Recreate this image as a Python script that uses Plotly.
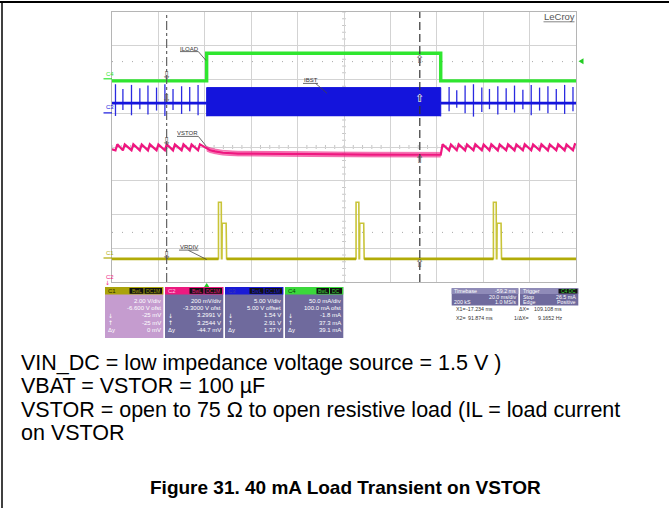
import plotly.graph_objects as go

# ---------------- data ----------------
# vertical settings of the four channels, from the readout boxes
CH_SCALE = {"C1": 2.0, "C2": 0.2, "C3": 5.0, "C4": 50.0}      # units / div
CH_OFFSET = {"C1": -6.6, "C2": -3.3, "C3": 5.0, "C4": 100.0}  # channel offset
TIME_RANGE = [-40.8, 159.2]                                   # ms, 20 ms/div

# C4 : ILOAD (mA)
iload_t = [-40.8, 0.0, 0.0, 100.9, 100.9, 159.2]
iload_ma = [-2.0, -2.0, 39.0, 39.0, -2.0, -2.0]

# C3 : IBST (V)
ibst_base_v = 1.5
ibst_spike_t = [-39.3, -36.1, -32.4, -28.8, -25.3, -21.6, -18.0, -14.5, -10.8, -7.3, -3.7,
                104.5, 107.8, 111.4, 115.0, 118.6, 121.9, 125.5, 129.1, 132.7, 136.3,
                139.9, 143.5, 147.1, 150.7, 154.3, 157.9]
ibst_spike_top = [4.3, 3.6, 4.2, 3.7, 4.1, 3.8, 4.3, 3.6, 4.0, 3.9, 4.2,
                  3.9, 3.4, 4.1, 4.3, 3.8, 3.6, 4.0, 3.7, 4.1, 3.5,
                  4.2, 3.8, 4.0, 3.6, 4.2, 3.9]
ibst_spike_bot = [-0.4, 0.5, -0.3, 0.6, -0.2, 0.4, -0.4, 0.5, -0.1, 0.3, -0.3,
                  0.3, 0.8, 0.0, -0.5, 0.2, 0.6, -0.2, 0.5, 0.1, 0.6,
                  -0.3, 0.4, 0.0, 0.5, -0.1, 0.3]
ibst_burst_t = [0.0, 100.9]
ibst_burst_top_v = 3.8
ibst_burst_bot_v = -0.45

# C2 : VSTOR (V)
vstor_pre_t = [-40.8, -39.3, -38.5, -36.1, -35.3, -32.4, -31.6, -28.8, -28.0, -25.3, -24.5,
               -21.6, -20.8, -18.0, -17.2, -14.5, -13.7, -10.8, -10.0, -7.3, -6.5, -3.7, -2.9, 0.0]
vstor_pre_v = [3.286, 3.280, 3.316, 3.280, 3.315, 3.281, 3.316, 3.280, 3.315, 3.280, 3.316,
               3.281, 3.315, 3.280, 3.316, 3.280, 3.315, 3.281, 3.316, 3.280, 3.315, 3.280, 3.316, 3.290]
vstor_load_t = [0.0, 1.5, 3.6, 7.0, 13.5, 40.0, 70.0, 100.9]
vstor_load_v = [3.290, 3.281, 3.274, 3.266, 3.261, 3.257, 3.255, 3.254]
vstor_post_t = [100.9, 101.7, 104.5, 105.3, 107.8, 108.6, 111.4, 112.2, 115.0, 115.8, 118.6,
                119.4, 121.9, 122.7, 125.5, 126.3, 129.1, 129.9, 132.7, 133.5, 136.3, 137.1,
                139.9, 140.7, 143.5, 144.3, 147.1, 147.9, 150.7, 151.5, 154.3, 155.1, 157.9,
                158.7, 159.2]
vstor_post_v = [3.254, 3.316, 3.280, 3.315, 3.281, 3.316, 3.280, 3.315, 3.280, 3.316, 3.281,
                3.315, 3.280, 3.316, 3.280, 3.315, 3.281, 3.316, 3.280, 3.315, 3.280, 3.316,
                3.281, 3.315, 3.280, 3.316, 3.280, 3.315, 3.281, 3.316, 3.280, 3.315, 3.280,
                3.316, 3.313]
vstor_noise_v = 0.014

# C1 : VRDIV (V)
vrdiv_base_v = -0.025
vrdiv_pulse_t0 = [5.1, 64.4, 123.6]
vrdiv_pulse_dt = [0.0, 0.0, 1.2, 1.3, 1.5, 1.6, 3.3, 3.5]
vrdiv_pulse_v = [-0.025, 3.33, 3.33, -0.025, -0.025, 2.08, 2.08, -0.025]

cursor_t = [-17.234, 91.874]
trigger_level_ma = 26.5

# readout boxes
box_channels = ["C1", "C2", "C3", "C4"]
box_tags = [["BwL", "DC1M"], ["BwL", "DC1M"], ["BwL", "DC1M"], ["BwL", "DC"]]
box_rows = [["2.00 V/div", "-6.600 V ofst", "-25 mV", "-25 mV", "0 mV"],
            ["200 mV/div", "-3.3000 V ofst", "3.2991 V", "3.2544 V", "-44.7 mV"],
            ["5.00 V/div", "5.00 V offset", "1.54 V", "2.91 V", "1.37 V"],
            ["50.0 mA/div", "100.0 mA ofst", "-1.8 mA", "37.3 mA", "39.1 mA"]]

notes = ["VIN_DC = low impedance voltage source = 1.5 V )",
         "VBAT = VSTOR = 100 µF",
         "VSTOR = open to 75 Ω to open resistive load (IL = load current",
         "on VSTOR"]
caption = "Figure 31. 40 mA Load Transient on VSTOR"

# ---------------- styling / layout ----------------
W, H = 669, 508
ML, MR, MT, MB = 112, 93, 12, 226
PW, PH = W - ML - MR, H - MT - MB
SF = "Liberation Sans, Arial, sans-serif"
COL = {"C1": "#b1ab08", "C2": "#ef1780", "C3": "#1414dc", "C4": "#2fe62f"}


def px(x):
    return (x - ML) / PW


def py(y):
    return (H - MB - y) / PH


def dv(vals, ch):
    return [None if v is None else (v + CH_OFFSET[ch]) / CH_SCALE[ch] for v in vals]


fig = go.Figure()

# C1 VRDIV : thin pulses over a thick baseline
vr_t, vr_v = [TIME_RANGE[0]], [vrdiv_base_v]
bl_t, bl_v = [TIME_RANGE[0]], [vrdiv_base_v]
for t0 in vrdiv_pulse_t0:
    for dt, v in zip(vrdiv_pulse_dt, vrdiv_pulse_v):
        vr_t.append(t0 + dt)
        vr_v.append(v)
    bl_t += [t0 + vrdiv_pulse_dt[0], None, t0 + vrdiv_pulse_dt[-1]]
    bl_v += [vrdiv_base_v, None, vrdiv_base_v]
vr_t.append(TIME_RANGE[1])
vr_v.append(vrdiv_base_v)
bl_t.append(TIME_RANGE[1])
bl_v.append(vrdiv_base_v)
fig.add_trace(go.Scatter(x=vr_t, y=dv(vr_v, "C1"), mode="lines",
                         line=dict(color="#c9c438", width=1.6), hoverinfo="skip"))
fig.add_trace(go.Scatter(x=bl_t, y=dv(bl_v, "C1"), mode="lines",
                         line=dict(color=COL["C1"], width=2.8), hoverinfo="skip"))

# C2 VSTOR
fig.add_trace(go.Scatter(x=vstor_load_t, y=dv([v + vstor_noise_v for v in vstor_load_v], "C2"),
                         mode="lines", line=dict(color="rgba(239,23,128,0.5)", width=1),
                         hoverinfo="skip"))
fig.add_trace(go.Scatter(x=vstor_load_t, y=dv([v - vstor_noise_v for v in vstor_load_v], "C2"),
                         mode="lines", line=dict(color="rgba(239,23,128,0.5)", width=1),
                         fill="tonexty", fillcolor="rgba(239,23,128,0.5)", hoverinfo="skip"))
vs_t = vstor_pre_t + vstor_load_t + vstor_post_t
vs_v = vstor_pre_v + vstor_load_v + vstor_post_v
fig.add_trace(go.Scatter(x=vs_t, y=dv(vs_v, "C2"), mode="lines",
                         line=dict(color=COL["C2"], width=2.2), hoverinfo="skip"))

# C3 IBST
sx, sy = [], []
for t, a, b in zip(ibst_spike_t, ibst_spike_top, ibst_spike_bot):
    sx += [t, t, None]
    sy += [a, b, None]
fig.add_trace(go.Scatter(x=sx, y=dv(sy, "C3"), mode="lines",
                         line=dict(color="#2a2ae0", width=1.3), hoverinfo="skip"))
fig.add_trace(go.Scatter(x=[TIME_RANGE[0], ibst_burst_t[0], None, ibst_burst_t[1], TIME_RANGE[1]],
                         y=dv([ibst_base_v, ibst_base_v, None, ibst_base_v, ibst_base_v], "C3"),
                         mode="lines", line=dict(color=COL["C3"], width=2.6), hoverinfo="skip"))
bx = [ibst_burst_t[0], ibst_burst_t[0], ibst_burst_t[1], ibst_burst_t[1]]
by = [ibst_burst_bot_v, ibst_burst_top_v, ibst_burst_top_v, ibst_burst_bot_v]
fig.add_trace(go.Scatter(x=bx, y=dv(by, "C3"), mode="lines", fill="toself",
                         fillcolor=COL["C3"], line=dict(color=COL["C3"], width=1),
                         hoverinfo="skip"))

# C4 ILOAD
fig.add_trace(go.Scatter(x=iload_t, y=dv(iload_ma, "C4"), mode="lines",
                         line=dict(color=COL["C4"], width=3.4), hoverinfo="skip"))

shapes = []
ann = []


def line_px(x0, y0, x1, y1, color="#444", width=1, dash=None):
    d = dict(type="line", xref="paper", yref="paper", x0=px(x0), y0=py(y0), x1=px(x1),
             y1=py(y1), line=dict(color=color, width=width), layer="above")
    if dash:
        d["line"]["dash"] = dash
    shapes.append(d)


def rect_px(x0, y0, x1, y1, fill, lc=None):
    shapes.append(dict(type="rect", xref="paper", yref="paper", x0=px(x0), y0=py(y0),
                       x1=px(x1), y1=py(y1), fillcolor=fill,
                       line=dict(width=0.6 if lc else 0, color=lc or fill), layer="above"))


def txt(x, y, s, size=6, color="#ffffff", anchor="left", family=SF):
    ann.append(dict(xref="paper", yref="paper", x=px(x), y=py(y), text=s, showarrow=False,
                    xanchor=anchor, yanchor="middle", borderpad=0,
                    font=dict(size=size, color=color, family=family)))


# center graticule ticks
xc = (TIME_RANGE[0] + TIME_RANGE[1]) / 2
for k in range(-20, 21):
    yv = k * 0.2
    shapes.append(dict(type="line", xref="x", yref="y", x0=xc - 0.8, x1=xc + 0.8, y0=yv, y1=yv,
                       line=dict(color="#c4c4c4", width=1), layer="below"))
for k in range(-25, 26):
    tv = xc + k * 4.0
    shapes.append(dict(type="line", xref="x", yref="y", x0=tv, x1=tv, y0=-0.06, y1=0.06,
                       line=dict(color="#c4c4c4", width=1), layer="below"))

# trigger level dotted lines
trig_div = (trigger_level_ma + CH_OFFSET["C4"]) / CH_SCALE["C4"]
for yv in [trig_div, -trig_div]:
    shapes.append(dict(type="line", xref="paper", yref="y", x0=0, x1=1, y0=yv, y1=yv,
                       line=dict(color="#a8a8a8", width=1, dash="1px,9px"), layer="below"))

# cursors
shapes.append(dict(type="line", xref="x", yref="paper", x0=cursor_t[0], x1=cursor_t[0], y0=0, y1=1,
                   line=dict(color="#555555", width=1.1, dash="dashdot"), layer="above"))
shapes.append(dict(type="line", xref="x", yref="paper", x0=cursor_t[1], x1=cursor_t[1], y0=0, y1=1,
                   line=dict(color="#333333", width=1.2, dash="8px,4px"), layer="above"))

# cursor arrows
AF = "DejaVu Sans"
x1p, x2p = 166.7, 419.3
for yy in [75.5, 99.0, 141.5, 255.0]:
    txt(x1p, yy, "⇩", size=11, color="#555555", anchor="center", family=AF)
for yy, c in [(59.5, "#555555"), (99.0, "#ffffff"), (159.0, "#555555"), (263.5, "#555555")]:
    txt(x2p, yy, "⇧", size=11, color=c, anchor="center", family=AF)

# trace labels with leader lines
for name, cx, cy, ux0, ux1, lx0, ly0, lx1, ly1 in [
        ("ILOAD", 189.0, 48.5, 180.0, 198.5, 198.5, 51.8, 206.0, 60.5),
        ("IBST", 310.5, 80.3, 303.0, 318.0, 315.5, 83.3, 327.0, 93.3),
        ("VSTOR", 187.8, 133.3, 177.0, 198.5, 198.5, 136.6, 206.5, 146.5),
        ("VRDIV", 188.7, 247.0, 179.0, 198.5, 188.5, 250.4, 206.7, 259.5)]:
    txt(cx, cy, name, size=6, color="#333333", anchor="center")
    line_px(ux0, cy + 3.1, ux1, cy + 3.1, color="#444444", width=0.8)
    line_px(lx0, ly0, lx1, ly1, color="#444444", width=0.8)

# left channel markers
for ch, ty, gy in [("C4", 73.8, 78.8), ("C3", 107.3, 112.9), ("C1", 252.8, 258.0)]:
    txt(104.5, ty, ch, size=6, color=COL[ch])
    line_px(103.5, gy, 112, gy, color=COL[ch], width=1.2)
txt(104.5, 277.0, "C2", size=6, color=COL["C2"])
txt(107.0, 282.5, "↓", size=6, color=COL["C2"], anchor="center", family=AF)

# trigger markers
shapes.append(dict(type="path", xref="paper", yref="paper", layer="above",
                   path=f"M {px(578.5)} {py(61.2)} L {px(583.5)} {py(58.2)} L {px(583.5)} {py(64.2)} Z",
                   fillcolor="#22cc22", line=dict(width=0)))
shapes.append(dict(type="path", xref="paper", yref="paper", layer="above",
                   path=f"M {px(206.7)} {py(283.0)} L {px(203.6)} {py(287.8)} L {px(209.8)} {py(287.8)} Z",
                   fillcolor="#22cc22", line=dict(width=0)))

# LeCroy logo
txt(559.0, 17.0, "LeCroy", size=9.5, color="#555555", anchor="center")
line_px(543.5, 21.8, 574.5, 21.8, color="#666666", width=0.8)

# channel readout boxes
box_x0 = [105.0, 165.0, 225.0, 285.0]
BW = 58.3
hdr_fill = {"C1": "#aaa30a", "C2": "#ec1a80", "C3": "#1a1ad6", "C4": "#3bd83b"}
hdr_text = {"C1": "#2b2900", "C2": "#ffc8e4", "C3": "#3a3ab0", "C4": "#0d3d0d"}
body_fill = {"C1": "#c59ccf", "C2": "#6f6a9d", "C3": "#6f6a9d", "C4": "#6f6a9d"}
row_y = [300.6, 307.8, 315.2, 322.5, 330.0]
for ch, x0, tags, rows in zip(box_channels, box_x0, box_tags, box_rows):
    rect_px(x0, 287.0, x0 + BW, 338.0, body_fill[ch])
    rect_px(x0, 287.0, x0 + BW, 294.5, hdr_fill[ch])
    txt(x0 + 1.5, 290.8, ch, size=6, color=hdr_text[ch])
    if len(tags[1]) > 2:
        spans = [(x0 + 24.5, x0 + 38.5), (x0 + 39.5, x0 + 57.0)]
    else:
        spans = [(x0 + 31.5, x0 + 44.0), (x0 + 45.0, x0 + 57.0)]
    for (a, b), tg in zip(spans, tags):
        rect_px(a, 288.0, b, 293.8, "#111111")
        txt((a + b) / 2, 290.9, tg, size=5, color=hdr_fill[ch], anchor="center")
    for ry, r in zip(row_y, rows):
        txt(x0 + BW - 1.5, ry, r, size=6, color="#ffffff", anchor="right")
    txt(x0 + 1.5, row_y[2], "↓", size=6, color="#ffffff", family=AF)
    txt(x0 + 1.5, row_y[3], "↑", size=6, color="#ffffff", family=AF)
    txt(x0 + 1.5, row_y[4], "Δy", size=6, color="#ffffff")

# timebase / trigger boxes
TS = 5.3
rect_px(451.7, 288.3, 518.3, 305.5, "#6f6a9d")
rect_px(451.7, 288.3, 518.3, 294.0, "#8f8bb8")
txt(453.0, 291.2, "Timebase", size=TS)
txt(517.0, 291.2, "-59.2 ms", size=TS, anchor="right")
txt(517.0, 296.8, "20.0 ms/div", size=TS, anchor="right")
txt(453.0, 302.0, "200 kS", size=TS)
txt(517.0, 302.0, "1.0 MS/s", size=TS, anchor="right")
rect_px(520.0, 288.3, 578.3, 305.5, "#6f6a9d")
rect_px(520.0, 288.3, 578.3, 294.0, "#8f8bb8")
txt(521.5, 291.2, "Trigger", size=TS)
rect_px(558.5, 288.9, 577.5, 293.6, "#111111")
txt(568.0, 291.2, "C4 DC", size=4.8, color="#3bd83b", anchor="center")
txt(521.5, 296.8, "Stop", size=TS)
txt(577.0, 296.8, "26.5 mA", size=TS, anchor="right")
txt(521.5, 302.0, "Edge", size=TS)
txt(577.0, 302.0, "Positive", size=TS, anchor="right")

# cursor readouts
dark = "#333333"
txt(455.0, 309.2, "X1=", size=TS, color=dark)
txt(493.5, 309.2, "-17.234 ms", size=TS, color=dark, anchor="right")
txt(529.5, 309.2, "ΔX=", size=TS, color=dark, anchor="right")
txt(563.0, 309.2, "109.108 ms", size=TS, color=dark, anchor="right")
txt(455.0, 317.8, "X2=", size=TS, color=dark)
txt(493.5, 317.8, "91.874 ms", size=TS, color=dark, anchor="right")
txt(529.5, 317.8, "1/ΔX=", size=TS, color=dark, anchor="right")
txt(563.0, 317.8, "9.1652 Hz", size=TS, color=dark, anchor="right")

# description text and caption
for ny, s in zip([362.5, 386.0, 410.0, 432.5], notes):
    txt(20.0, ny, s, size=21.5, color="#000000", family="Liberation Sans, Arial, sans-serif")
txt(345.0, 487.0, "<b>" + caption + "</b>", size=19, color="#000000", anchor="center",
    family="Liberation Sans, Arial, sans-serif")

# page frame
line_px(0, 2.0, 669, 2.0, color="#000000", width=2)
line_px(2.0, 2.0, 2.0, 508, color="#000000", width=1.5)

axis_common = dict(showgrid=True, gridcolor="#d3d3d3", gridwidth=1, zeroline=False,
                   showticklabels=False, ticks="", showline=True, linecolor="#b5b5b5",
                   linewidth=1, mirror=True, fixedrange=True)
fig.update_layout(
    width=W, height=H, margin=dict(l=ML, r=MR, t=MT, b=MB),
    paper_bgcolor="#ffffff", plot_bgcolor="#ffffff", showlegend=False,
    xaxis=dict(range=TIME_RANGE, tick0=TIME_RANGE[0], dtick=20, **axis_common),
    yaxis=dict(range=[-4, 4], tick0=-4, dtick=1, **axis_common),
    shapes=shapes, annotations=ann,
)

fig.write_html("out.html", config={"displayModeBar": False},
               post_script="document.body.style.margin='0px';document.body.style.overflow='hidden';")
